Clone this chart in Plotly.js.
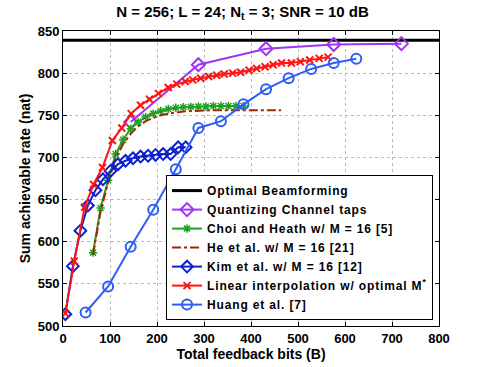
<!DOCTYPE html>
<html><head><meta charset="utf-8">
<script src="https://cdn.plot.ly/plotly-3.0.1.min.js"></script>
<style>html,body{margin:0;padding:0;background:#fff}
.legendtext{letter-spacing:0.85px}</style>
</head><body><div id="chart" style="width:485px;height:367px"></div>
<script>
const optX = [0, 800];
const optY = [839, 839];
const quantX = [144, 288, 432, 576, 720];
const quantY = [742, 810, 829, 834, 835];
const choiX = [64,80,96,112,128,144,160,176,192,208,224,240,256,272,288,304,320,336,352,368,384];
const choiY = [587,640,673,704,721,734,742,748,752,755,757.5,759,759.5,760,760.5,760.5,761,761,761,761,761];
const heX = [64,80,96,112,128,144,160,176,192,208,224,240,256,272,288,304,320,336,352,368,384,400,416,432,448,464];
const heY = [585,636,670,699,716,728,737,743,747,750,752,753.5,754.5,755,755.5,756,756,756,756,756,756,756,756,756,756,756];
const kimX = [5,21,37,53,69,85,101,117,133,149,165,181,197,213,229,245,261];
const kimY = [514,571,613,643,661,674,684,692,696,699,701,702,703,704,704,712,712];
const linX = [5,24,46,65,84,105,125,145,165,184,203,224,242,260,276,293,310,327,343,361,378,396,412,430,447,465,486,505,525,545,564];
const linY = [515,577,641,668,688,720,735,752,762,769,776,783,787,790,792,794,796,797.5,799,800,801,803.5,805.5,807.5,810,812,812,813.5,815.5,817.5,819];
const huangX = [48,96,144,192,240,288,336,384,432,480,528,576,624];
const huangY = [516,547,594,638,686,735,743,763,781,794,805,812,817];

const names = ['Optimal Beamforming','Quantizing Channel taps','Choi and Heath w/ M = 16 [5]','He et al. w/ M = 16 [21]','Kim et al. w/ M = 16 [12]','Linear interpolation w/ optimal M<sup>*</sup>','Huang et al. [7]'];

const traces = [
  {x: optX, y: optY, name: names[0], mode: 'lines', line: {color: '#000000', width: 3}},
  {x: quantX, y: quantY, name: names[1], mode: 'lines+markers', line: {color: '#a034f5', width: 2}, marker: {symbol: 'diamond-open', size: 10, color: '#a034f5', line: {width: 2}}},
  {x: choiX, y: choiY, name: names[2], mode: 'lines+markers', line: {color: '#22a022', width: 2}, marker: {symbol: 'asterisk-open', size: 7, color: '#22a022', line: {width: 1.5, color: '#22a022'}}},
  {x: heX, y: heY, name: names[3], mode: 'lines', line: {color: '#a0280a', width: 2, dash: 'dashdot'}},
  {x: kimX, y: kimY, name: names[4], mode: 'lines+markers', line: {color: '#1020d0', width: 2}, marker: {symbol: 'diamond-open', size: 9, color: '#1020d0', line: {width: 2}}},
  {x: linX, y: linY, name: names[5], mode: 'lines+markers', line: {color: '#ff1414', width: 2}, marker: {symbol: 'x-thin-open', size: 7, color: '#ff1414', line: {width: 2, color: '#ff1414'}}},
  {x: huangX, y: huangY, name: names[6], mode: 'lines+markers', line: {color: '#2f5ef5', width: 2}, marker: {symbol: 'circle-open', size: 10, color: '#2f5ef5', line: {width: 2}}}
];

const fontFam = '"Liberation Sans", Arial, Helvetica, sans-serif';
const layout = {
  width: 485, height: 367,
  margin: {l: 63, r: 46, t: 31, b: 41},
  paper_bgcolor: '#fff', plot_bgcolor: '#fff',
  font: {family: fontFam, size: 12, color: '#000', weight: 'bold'},
  title: {text: 'N = 256; L = 24; N<sub>t</sub> = 3; SNR = 10 dB', x: 0.5, xanchor: 'center', y: 0.983, yanchor: 'top', font: {size: 15, weight: 'bold', family: fontFam}},
  xaxis: {range: [0, 800], dtick: 100, tick0: 0, showgrid: true, gridcolor: '#bbbbbb', griddash: 'dot', gridwidth: 1,
    showline: true, linecolor: '#000', linewidth: 1, mirror: 'ticks', ticks: 'inside', ticklen: 4, tickcolor: '#000',
    zeroline: false, tickfont: {size: 13, weight: 'bold'},
    title: {text: 'Total feedback bits (B)', font: {size: 14, weight: 'bold'}, standoff: 1}},
  yaxis: {range: [500, 850], dtick: 50, tick0: 500, showgrid: true, gridcolor: '#bbbbbb', griddash: 'dot', gridwidth: 1,
    showline: true, linecolor: '#000', linewidth: 1, mirror: 'ticks', ticks: 'inside', ticklen: 4, tickcolor: '#000',
    zeroline: false, tickfont: {size: 13, weight: 'bold'},
    title: {text: 'Sum achievable rate (nat)', font: {size: 14, weight: 'bold'}, standoff: 3}},
  legend: {x: 0.274, y: 0.02, xanchor: 'left', yanchor: 'bottom', bgcolor: '#fff', bordercolor: '#000', borderwidth: 1,
    font: {size: 12, weight: 'bold'}, tracegroupgap: 0, itemwidth: 30},
  showlegend: true
};
Plotly.newPlot('chart', traces, layout, {displayModeBar: false, staticPlot: true});
</script></body></html>
